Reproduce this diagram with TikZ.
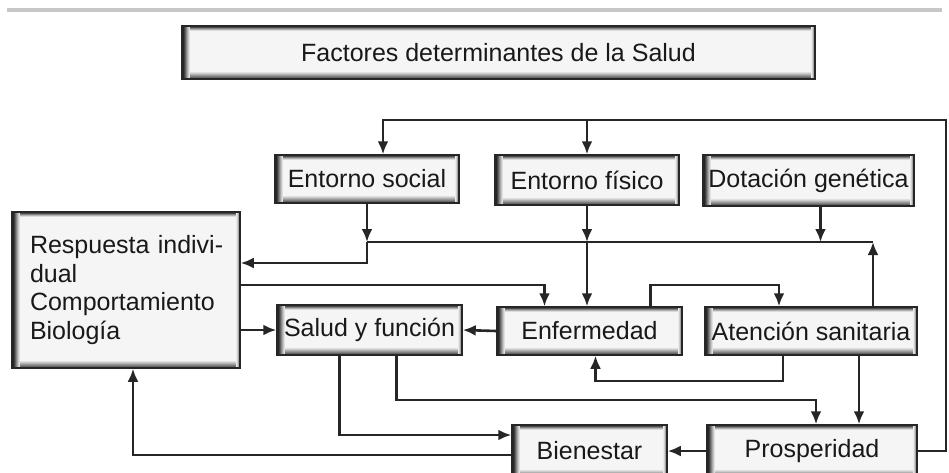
\documentclass[tikz,border=0pt]{standalone}
\usepackage{fontspec}
\setmainfont{Liberation Sans}
\usetikzlibrary{positioning}
\usetikzlibrary{calc}
\usetikzlibrary{arrows.meta}

\begin{document}
\begin{tikzpicture}[x=1pt, y=-1pt,
    box/.style={draw=black!85, line width=1.5pt, fill=black!4, text=black!90,
      font=\fontsize{25}{28.5}\selectfont, inner sep=0pt,
      path picture={
        % bevelled edges: thick dark left and bottom, thinner top and right
        \foreach \i/\c in {0/70,1/60,2/50,3/40,4/30,5/20,6/12}
          \draw[black!\c, line width=1pt]
            ([yshift=\i.5pt]path picture bounding box.south west) -- ([yshift=\i.5pt]path picture bounding box.south east);
        \foreach \i/\c in {0/85,1/70,2/50,3/30,4/14}
          \draw[black!\c, line width=1pt]
            ([yshift=-\i.5pt]path picture bounding box.north west) -- ([yshift=-\i.5pt]path picture bounding box.north east);
        \foreach \i/\c in {0/55,1/35,2/18,3/8}
          \draw[black!\c, line width=1pt]
            ([xshift=-\i.5pt]path picture bounding box.south east) -- ([xshift=-\i.5pt]path picture bounding box.north east);
        \foreach \i/\c in {0/90,1/85,2/75,3/62,4/48,5/34,6/22,7/12}
          \draw[black!\c, line width=1pt]
            ([xshift=\i.5pt]path picture bounding box.south west) -- ([xshift=\i.5pt]path picture bounding box.north west);
      }},
    link/.style={draw=black!85, line width=2.6pt, -{Latex[length=13pt,width=11pt]}},
    wire/.style={draw=black!85, line width=2.6pt},
  ]
  \useasboundingbox (0,0) rectangle (949,472);
  \clip (0,0) rectangle (949,472);

  % grey rule over the figure
  \draw[black!22, line width=4pt] (7,10) -- (942,10);

  % boxes
  \node[box, minimum width=633pt, minimum height=53pt] (title) at (498.5,52.5) {Factores determinantes de la Salud};

  \node[box, minimum width=184pt, minimum height=48pt] (social) at (367,179) {Entorno social};
  \node[box, minimum width=184pt, minimum height=50pt] (fisico) at (587,180) {Entorno físico};
  \node[box, minimum width=211pt, minimum height=51pt] (genetica) at (808.5,180.5) {Dotación genética};

  \node[box, text width=192pt, align=left, minimum width=228pt, minimum height=156pt] (respuesta) at (126,290)
    {\makebox[192pt][s]{Respuesta indivi-}\\dual\\Comportamiento\\Biología};

  \node[box, minimum width=185pt, minimum height=50pt] (salud) at (369.5,330) {Salud y función};
  \node[box, minimum width=185pt, minimum height=48pt] (enfermedad) at (589.5,331) {Enfermedad};
  \node[box, minimum width=212pt, minimum height=48pt] (atencion) at (811,331) {Atención sanitaria};

  \node[box, minimum width=155pt, minimum height=52pt] (bienestar) at (589.5,451) {Bienestar};
  \node[box, minimum width=210pt, minimum height=52pt] (prosperidad) at (812,451) {Prosperidad};

  % rows the connectors run along
  \coordinate (top) at (0,120);
  \coordinate (rim) at (946,0);
  \coordinate (bus) at (0,242);
  \coordinate (row1) at (0,263);
  \coordinate (row2) at (0,285);
  \coordinate (row3) at (0,381);
  \coordinate (row4) at (0,400);

  % connectors
  \draw[link] (prosperidad.east) -| (rim |- top) -| ([xshift=16pt]social.north);
  \draw[link] (fisico.north |- top) -- (fisico.north);

  \draw[wire] (social.south |- bus) -- ([xshift=62pt]atencion.north |- bus);
  \draw[link] (social.south) -- (social.south |- bus);
  \draw[link] (social.south |- bus) |- (respuesta.east |- row1);
  \draw[link] (fisico.south) -- (fisico.south |- bus);
  \draw[link] (fisico.south |- bus) -- (fisico.south |- enfermedad.north);
  \draw[link] ([xshift=12pt]genetica.south) -- ([xshift=12pt]genetica.south |- bus);
  \draw[link] ([xshift=62pt]atencion.north) -- ([xshift=62pt]atencion.north |- bus);

  \draw[link] (respuesta.east |- row2) -| ([xshift=-45pt]enfermedad.north);
  \draw[link] ([xshift=61pt]enfermedad.north) -- ([xshift=61pt]enfermedad.north |- row2) -| ([xshift=-32pt]atencion.north);

  \draw[link] (respuesta.east |- salud.west) -- (salud.west);
  \draw[link] (enfermedad.west) -- (salud.east);

  \draw[link] ([xshift=-28pt]atencion.south) -- ([xshift=-28pt]atencion.south |- row3) -| ([xshift=6pt]enfermedad.south);
  \draw[link] ([xshift=48pt]atencion.south) -- ([xshift=48pt]atencion.south |- prosperidad.north);

  \draw[link] ([xshift=27pt]salud.south) -- ([xshift=27pt]salud.south |- row4) -| ([xshift=4pt]prosperidad.north);
  \draw[link] ([xshift=-30pt]salud.south) |- ([yshift=16pt]bienestar.west);
  \draw[link] ([yshift=-4pt]bienestar.west) -| ([xshift=7pt]respuesta.south);
  \draw[link] (prosperidad.west) -- (bienestar.east);
\end{tikzpicture}
\end{document}
